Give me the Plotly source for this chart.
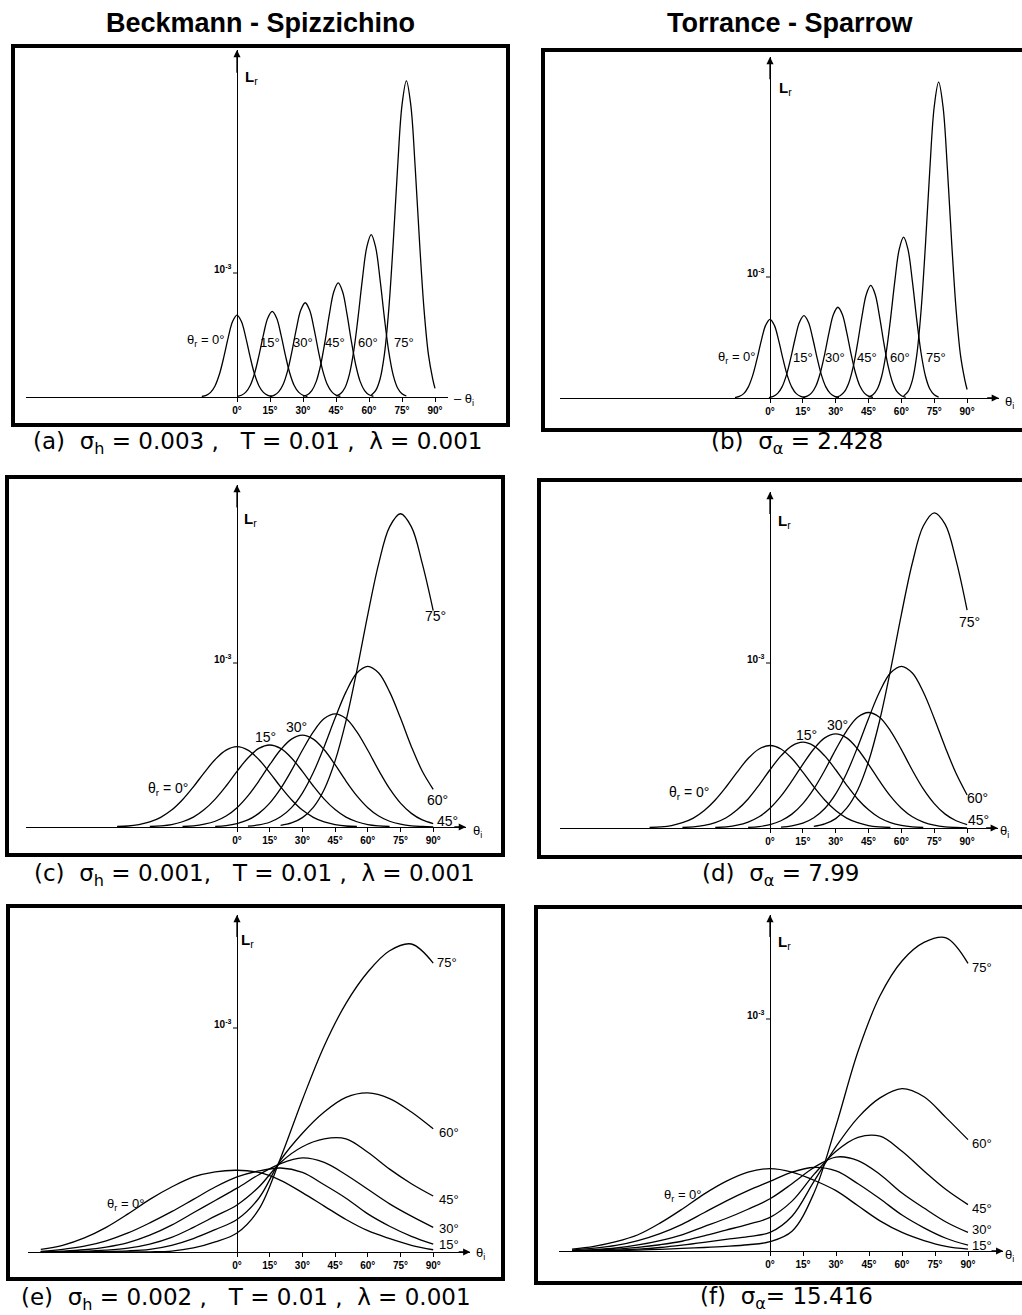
import plotly.graph_objects as go

W, H = 1022, 1315

# ------------------------------------------------------------------ data
TICK_DEG = [0, 15, 30, 45, 60, 75, 90]
TICK_TEXT = ["0°", "15°", "30°", "45°", "60°", "75°", "90°"]

# (a) Beckmann-Spizzichino, sigma_h = 0.003
A_0_x = [-16, -14, -12, -10, -8, -6, -4, -2, 0, 2, 4, 6, 8, 10, 12, 14, 16]
A_0_y = [0.004, 0.013, 0.037, 0.089, 0.183, 0.321, 0.479, 0.609, 0.66, 0.609, 0.479, 0.321, 0.183, 0.089, 0.037, 0.013, 0.004]
A_15_x = [0, 2, 4, 6, 8, 10, 12, 14, 16, 18, 20, 22, 24, 26, 28, 30, 32]
A_15_y = [0.004, 0.014, 0.039, 0.093, 0.192, 0.336, 0.501, 0.637, 0.69, 0.637, 0.501, 0.336, 0.192, 0.093, 0.039, 0.014, 0.004]
A_30_x = [15, 17, 19, 21, 23, 25, 27, 29, 31, 33, 35, 37, 39, 41, 43, 45, 47]
A_30_y = [0.005, 0.015, 0.043, 0.103, 0.211, 0.370, 0.552, 0.701, 0.76, 0.701, 0.552, 0.370, 0.211, 0.103, 0.043, 0.015, 0.005]
A_45_x = [30, 32, 34, 36, 38, 40, 42, 44, 46, 48, 50, 52, 54, 56, 58, 60, 62]
A_45_y = [0.006, 0.018, 0.052, 0.124, 0.256, 0.448, 0.668, 0.849, 0.92, 0.849, 0.668, 0.448, 0.256, 0.124, 0.052, 0.018, 0.006]
A_60_x = [45, 47, 49, 51, 53, 55, 57, 59, 61, 63, 65, 67, 69, 71, 73, 75, 77]
A_60_y = [0.008, 0.026, 0.073, 0.177, 0.364, 0.638, 0.951, 1.209, 1.31, 1.209, 0.951, 0.638, 0.364, 0.177, 0.073, 0.026, 0.008]
A_75_x = [61, 63, 65, 67, 69, 71, 73, 75, 77, 79, 81, 83, 85, 87, 89, 90]
A_75_y = [0.015, 0.051, 0.143, 0.344, 0.709, 1.242, 1.851, 2.354, 2.55, 2.354, 1.851, 1.242, 0.709, 0.344, 0.143, 0.07]

# (b) Torrance-Sparrow, sigma_alpha = 2.428
B_0_x = [-16, -14, -12, -10, -8, -6, -4, -2, 0, 2, 4, 6, 8, 10, 12, 14, 16]
B_0_y = [0.004, 0.013, 0.036, 0.088, 0.181, 0.317, 0.472, 0.600, 0.65, 0.600, 0.472, 0.317, 0.181, 0.088, 0.036, 0.013, 0.004]
B_15_x = [-0.5, 1.5, 3.5, 5.5, 7.5, 9.5, 11.5, 13.5, 15.5, 17.5, 19.5, 21.5, 23.5, 25.5, 27.5, 29.5, 31.5]
B_15_y = [0.004, 0.014, 0.038, 0.092, 0.189, 0.331, 0.494, 0.628, 0.68, 0.628, 0.494, 0.331, 0.189, 0.092, 0.038, 0.014, 0.004]
B_30_x = [15, 17, 19, 21, 23, 25, 27, 29, 31, 33, 35, 37, 39, 41, 43, 45, 47]
B_30_y = [0.005, 0.015, 0.042, 0.101, 0.209, 0.365, 0.545, 0.692, 0.75, 0.692, 0.545, 0.365, 0.209, 0.101, 0.042, 0.015, 0.005]
B_45_x = [30, 32, 34, 36, 38, 40, 42, 44, 46, 48, 50, 52, 54, 56, 58, 60, 62]
B_45_y = [0.006, 0.019, 0.052, 0.126, 0.259, 0.453, 0.675, 0.858, 0.93, 0.858, 0.675, 0.453, 0.259, 0.126, 0.052, 0.019, 0.006]
B_60_x = [45, 47, 49, 51, 53, 55, 57, 59, 61, 63, 65, 67, 69, 71, 73, 75, 77]
B_60_y = [0.008, 0.027, 0.074, 0.180, 0.370, 0.648, 0.966, 1.228, 1.33, 1.228, 0.966, 0.648, 0.370, 0.180, 0.074, 0.027, 0.008]
B_75_x = [61, 63, 65, 67, 69, 71, 73, 75, 77, 79, 81, 83, 85, 87, 89, 90]
B_75_y = [0.016, 0.052, 0.146, 0.352, 0.726, 1.271, 1.895, 2.409, 2.61, 2.409, 1.895, 1.271, 0.726, 0.352, 0.146, 0.07]

# (c) Beckmann-Spizzichino, sigma_h = 0.001
C_0_x = [-55, -50, -45, -40, -35, -30, -25, -20, -15, -10, -5, 0, 5, 10, 15, 20, 25, 30, 35, 40, 45, 50, 55]
C_0_y = [0.003, 0.006, 0.015, 0.031, 0.059, 0.103, 0.166, 0.245, 0.332, 0.412, 0.469, 0.49, 0.469, 0.412, 0.332, 0.245, 0.166, 0.103, 0.059, 0.031, 0.015, 0.006, 0.003]
C_15_x = [-40, -35, -30, -25, -20, -15, -10, -5, 0, 5, 10, 15, 20, 25, 30, 35, 40, 45, 50, 55, 60, 65, 70]
C_15_y = [0.003, 0.007, 0.015, 0.032, 0.060, 0.106, 0.170, 0.250, 0.339, 0.421, 0.479, 0.50, 0.479, 0.421, 0.339, 0.250, 0.170, 0.106, 0.060, 0.032, 0.015, 0.007, 0.003]
C_30_x = [-25, -20, -15, -10, -5, 0, 5, 10, 15, 20, 25, 30, 35, 40, 45, 50, 55, 60, 65, 70, 75, 80, 85, 90]
C_30_y = [0.003, 0.007, 0.017, 0.035, 0.067, 0.118, 0.190, 0.280, 0.380, 0.471, 0.536, 0.56, 0.536, 0.471, 0.380, 0.280, 0.190, 0.118, 0.067, 0.035, 0.017, 0.007, 0.003, 0.001]
C_45_x = [-10, -5, 0, 5, 10, 15, 20, 25, 30, 35, 40, 45, 50, 55, 60, 65, 70, 75, 80, 85, 90]
C_45_y = [0.004, 0.009, 0.021, 0.043, 0.083, 0.146, 0.234, 0.345, 0.468, 0.580, 0.661, 0.69, 0.661, 0.580, 0.468, 0.345, 0.234, 0.146, 0.083, 0.043, 0.021]
C_60_x = [5, 10, 15, 20, 25, 30, 35, 40, 45, 50, 55, 60, 65, 70, 75, 80, 85, 90]
C_60_y = [0.005, 0.013, 0.029, 0.062, 0.118, 0.207, 0.332, 0.490, 0.664, 0.824, 0.939, 0.98, 0.939, 0.824, 0.664, 0.490, 0.340, 0.23]
C_75_x = [20, 25, 30, 35, 40, 45, 50, 55, 60, 65, 70, 75, 80, 85, 90]
C_75_y = [0.010, 0.025, 0.057, 0.120, 0.229, 0.403, 0.647, 0.955, 1.295, 1.606, 1.830, 1.91, 1.830, 1.606, 1.32]

# (d) Torrance-Sparrow, sigma_alpha = 7.99
D_0_x = [-55, -50, -45, -40, -35, -30, -25, -20, -15, -10, -5, 0, 5, 10, 15, 20, 25, 30, 35, 40, 45, 50, 55]
D_0_y = [0.003, 0.007, 0.015, 0.032, 0.060, 0.106, 0.170, 0.250, 0.339, 0.421, 0.479, 0.50, 0.479, 0.421, 0.339, 0.250, 0.170, 0.106, 0.060, 0.032, 0.015, 0.007, 0.003]
D_15_x = [-40, -35, -30, -25, -20, -15, -10, -5, 0, 5, 10, 15, 20, 25, 30, 35, 40, 45, 50, 55, 60, 65, 70]
D_15_y = [0.003, 0.007, 0.016, 0.033, 0.062, 0.110, 0.176, 0.260, 0.353, 0.437, 0.498, 0.52, 0.498, 0.437, 0.353, 0.260, 0.176, 0.110, 0.062, 0.033, 0.016, 0.007, 0.003]
D_30_x = [-25, -20, -15, -10, -5, 0, 5, 10, 15, 20, 25, 30, 35, 40, 45, 50, 55, 60, 65, 70, 75, 80, 85, 90]
D_30_y = [0.003, 0.007, 0.017, 0.036, 0.068, 0.120, 0.193, 0.285, 0.386, 0.479, 0.546, 0.57, 0.546, 0.479, 0.386, 0.285, 0.193, 0.120, 0.068, 0.036, 0.017, 0.007, 0.003, 0.001]
D_45_x = [-10, -5, 0, 5, 10, 15, 20, 25, 30, 35, 40, 45, 50, 55, 60, 65, 70, 75, 80, 85, 90]
D_45_y = [0.004, 0.009, 0.021, 0.044, 0.084, 0.148, 0.237, 0.350, 0.475, 0.589, 0.671, 0.70, 0.671, 0.589, 0.475, 0.350, 0.237, 0.148, 0.084, 0.044, 0.021]
D_60_x = [5, 10, 15, 20, 25, 30, 35, 40, 45, 50, 55, 60, 65, 70, 75, 80, 85, 90]
D_60_y = [0.005, 0.013, 0.029, 0.062, 0.118, 0.207, 0.332, 0.490, 0.664, 0.824, 0.939, 0.98, 0.939, 0.824, 0.664, 0.490, 0.330, 0.20]
D_75_x = [20, 25, 30, 35, 40, 45, 50, 55, 60, 65, 70, 75, 80, 85, 90]
D_75_y = [0.010, 0.025, 0.057, 0.120, 0.229, 0.403, 0.647, 0.955, 1.295, 1.606, 1.830, 1.91, 1.840, 1.620, 1.32]

# (e) Beckmann-Spizzichino, sigma_h = 0.002  (shared theta grid)
E_x = [-90, -80, -70, -60, -50, -40, -30, -20, -10, 0, 10, 20, 30, 40, 50, 60, 70, 80, 90]
E_0_y = [0.012, 0.03, 0.063, 0.11, 0.17, 0.235, 0.29, 0.335, 0.358, 0.365, 0.355, 0.32, 0.265, 0.205, 0.145, 0.095, 0.06, 0.03, 0.01]
E_15_y = [0.003, 0.012, 0.026, 0.05, 0.085, 0.13, 0.18, 0.235, 0.29, 0.335, 0.362, 0.375, 0.355, 0.30, 0.24, 0.17, 0.115, 0.07, 0.035]
E_30_y = [0.001, 0.004, 0.01, 0.022, 0.042, 0.075, 0.12, 0.175, 0.23, 0.285, 0.345, 0.395, 0.42, 0.40, 0.345, 0.28, 0.215, 0.16, 0.11]
E_45_y = [0.0, 0.001, 0.003, 0.008, 0.017, 0.035, 0.065, 0.11, 0.16, 0.21, 0.29, 0.40, 0.47, 0.505, 0.505, 0.445, 0.37, 0.305, 0.25]
E_60_y = [0.0, 0.0, 0.001, 0.002, 0.005, 0.012, 0.03, 0.06, 0.10, 0.145, 0.24, 0.41, 0.53, 0.625, 0.69, 0.71, 0.685, 0.625, 0.55]
E_75_y = [0.0, 0.0, 0.0, 0.0, 0.0, 0.001, 0.004, 0.018, 0.045, 0.085, 0.19, 0.42, 0.68, 0.92, 1.11, 1.25, 1.345, 1.375, 1.29]

# (f) Torrance-Sparrow, sigma_alpha = 15.416  (shared theta grid)
F_x = [-90, -80, -70, -60, -50, -40, -30, -20, -10, 0, 10, 20, 30, 40, 50, 60, 70, 80, 90]
F_0_y = [0.008, 0.02, 0.04, 0.07, 0.12, 0.18, 0.245, 0.30, 0.34, 0.355, 0.34, 0.305, 0.26, 0.195, 0.13, 0.08, 0.045, 0.02, 0.008]
F_15_y = [0.004, 0.012, 0.024, 0.045, 0.075, 0.115, 0.165, 0.215, 0.26, 0.30, 0.34, 0.36, 0.345, 0.29, 0.225, 0.155, 0.10, 0.055, 0.025]
F_30_y = [0.002, 0.006, 0.013, 0.026, 0.045, 0.07, 0.105, 0.14, 0.18, 0.225, 0.29, 0.36, 0.405, 0.39, 0.33, 0.25, 0.185, 0.125, 0.08]
F_45_y = [0.001, 0.004, 0.008, 0.016, 0.027, 0.042, 0.065, 0.09, 0.115, 0.145, 0.215, 0.33, 0.43, 0.49, 0.495, 0.43, 0.345, 0.265, 0.20]
F_60_y = [0.0, 0.002, 0.004, 0.008, 0.015, 0.025, 0.037, 0.05, 0.062, 0.08, 0.15, 0.30, 0.45, 0.575, 0.66, 0.70, 0.665, 0.575, 0.48]
F_75_y = [0.0, 0.001, 0.002, 0.004, 0.007, 0.011, 0.015, 0.02, 0.027, 0.04, 0.085, 0.25, 0.54, 0.86, 1.10, 1.25, 1.33, 1.35, 1.24]

CURVES = {
    "a": [(A_0_x, A_0_y), (A_15_x, A_15_y), (A_30_x, A_30_y), (A_45_x, A_45_y), (A_60_x, A_60_y), (A_75_x, A_75_y)],
    "b": [(B_0_x, B_0_y), (B_15_x, B_15_y), (B_30_x, B_30_y), (B_45_x, B_45_y), (B_60_x, B_60_y), (B_75_x, B_75_y)],
    "c": [(C_0_x, C_0_y), (C_15_x, C_15_y), (C_30_x, C_30_y), (C_45_x, C_45_y), (C_60_x, C_60_y), (C_75_x, C_75_y)],
    "d": [(D_0_x, D_0_y), (D_15_x, D_15_y), (D_30_x, D_30_y), (D_45_x, D_45_y), (D_60_x, D_60_y), (D_75_x, D_75_y)],
    "e": [(E_x, E_0_y), (E_x, E_15_y), (E_x, E_30_y), (E_x, E_45_y), (E_x, E_60_y), (E_x, E_75_y)],
    "f": [(F_x, F_0_y), (F_x, F_15_y), (F_x, F_30_y), (F_x, F_45_y), (F_x, F_60_y), (F_x, F_75_y)],
}

NB = "\u00a0"
CAPTIONS = {
    "a": f"(a){NB}{NB}σ<sub>h</sub> = 0.003 ,{NB}{NB}{NB}T = 0.01 ,{NB}{NB}λ = 0.001",
    "b": f"(b){NB}{NB}σ<sub>α</sub> = 2.428",
    "c": f"(c){NB}{NB}σ<sub>h</sub> = 0.001,{NB}{NB}{NB}T = 0.01 ,{NB}{NB}λ = 0.001",
    "d": f"(d){NB}{NB}σ<sub>α</sub> = 7.99",
    "e": f"(e){NB}{NB}σ<sub>h</sub> = 0.002 ,{NB}{NB}{NB}T = 0.01 ,{NB}{NB}λ = 0.001",
    "f": f"(f){NB}{NB}σ<sub>α</sub>= 15.416",
}
THETA_R0 = "θ<sub>r</sub> = 0°"

# ------------------------------------------------------------------ layout params (pixels)
PANELS = [
    dict(k="a", x0=237, ppd=2.2, xmin=-96, xmax=96, base=397, top=50, unit=124, harrow=False,
         box=(13, 46, 508, 425), lr=(243, 78), ti=(452, 400, "– θ<sub>i</sub>", "left"), cap=(258, 443),
         labels=[(THETA_R0, 227, 341, "right"), ("15°", 270, 342, "center"), ("30°", 303, 342, "center"),
                 ("45°", 335, 342, "center"), ("60°", 368, 342, "center"), ("75°", 404, 342, "center")], lfs=13),
    dict(k="b", x0=770, ppd=2.19, xmin=-96, xmax=104.5, base=398, top=57, unit=121, harrow=True,
         box=(543, 50, 1030, 430), lr=(777, 88), ti=(1009, 402, "θ<sub>i</sub>", "center"), cap=(797, 443),
         labels=[(THETA_R0, 758, 357, "right"), ("15°", 803, 357, "center"), ("30°", 835, 357, "center"),
                 ("45°", 867, 357, "center"), ("60°", 900, 357, "center"), ("75°", 936, 357, "center")], lfs=13),
    dict(k="c", x0=237, ppd=2.18, xmin=-97, xmax=105, base=827, top=485, unit=164, harrow=True,
         box=(7, 477, 503, 855), lr=(242, 519), ti=(477, 831, "θ<sub>i</sub>", "center"), cap=(254, 875),
         labels=[(THETA_R0, 190, 789, "right"), ("15°", 265, 737, "center"), ("30°", 296, 727, "center"),
                 ("45°", 447, 821, "center"), ("60°", 437, 800, "center"), ("75°", 435, 616, "center")], lfs=14),
    dict(k="d", x0=770, ppd=2.19, xmin=-96, xmax=104, base=828, top=492, unit=165, harrow=True,
         box=(539, 480, 1030, 857), lr=(776, 522), ti=(1004, 832, "θ<sub>i</sub>", "center"), cap=(780, 875),
         labels=[(THETA_R0, 711, 793, "right"), ("15°", 806, 735, "center"), ("30°", 837, 725, "center"),
                 ("45°", 978, 820, "center"), ("60°", 977, 798, "center"), ("75°", 969, 622, "center")], lfs=14),
    dict(k="e", x0=237, ppd=2.18, xmin=-96, xmax=107, base=1252, top=915, unit=224, harrow=True,
         box=(8, 906, 503, 1279), lr=(239, 941), ti=(480, 1253, "θ<sub>i</sub>", "center"), cap=(246, 1299),
         labels=[(THETA_R0, 147, 1204, "right"), ("15°", 449, 1244, "center"), ("30°", 449, 1228, "center"),
                 ("45°", 449, 1199, "center"), ("60°", 449, 1132, "center"), ("75°", 447, 962, "center")], lfs=13),
    dict(k="f", x0=770, ppd=2.2, xmin=-96, xmax=106, base=1251, top=915, unit=232, harrow=True,
         box=(536, 907, 1030, 1283), lr=(776, 942), ti=(1009, 1255, "θ<sub>i</sub>", "center"), cap=(786, 1298),
         labels=[(THETA_R0, 704, 1195, "right"), ("15°", 982, 1245, "center"), ("30°", 982, 1229, "center"),
                 ("45°", 982, 1208, "center"), ("60°", 982, 1143, "center"), ("75°", 982, 967, "center")], lfs=13),
]

FONT = "Liberation Sans, Arial, Helvetica, sans-serif"
CAPFONT = "DejaVu Sans, Verdana, sans-serif"


def pxx(x):
    return x / W


def pxy(y):
    return 1 - y / H


fig = go.Figure()
layout = dict(width=W, height=H, margin=dict(l=0, r=0, t=0, b=0), paper_bgcolor="white",
              plot_bgcolor="rgba(0,0,0,0)", showlegend=False, hovermode=False,
              font=dict(family=FONT, color="black"))
annotations = []
shapes = []

for i, p in enumerate(PANELS, start=1):
    xr = "x" if i == 1 else f"x{i}"
    yr = "y" if i == 1 else f"y{i}"
    xk = "xaxis" if i == 1 else f"xaxis{i}"
    yk = "yaxis" if i == 1 else f"yaxis{i}"
    ytop = (p["base"] - p["top"]) / p["unit"]
    xd = [pxx(p["x0"] + p["xmin"] * p["ppd"]), pxx(p["x0"] + p["xmax"] * p["ppd"])]
    yd = [pxy(p["base"]), pxy(p["top"])]
    layout[xk] = dict(domain=xd, range=[p["xmin"], p["xmax"]], anchor=yr, showgrid=False,
                      zeroline=True, zerolinecolor="black", zerolinewidth=1.3,
                      showline=True, linecolor="black", linewidth=1.3, mirror=False,
                      ticks="outside", ticklen=4, tickwidth=1, tickcolor="black",
                      tickvals=TICK_DEG, ticktext=TICK_TEXT,
                      tickfont=dict(family=FONT, size=10, color="black", weight="bold"),
                      fixedrange=True)
    layout[yk] = dict(domain=yd, range=[0, ytop], anchor=xr, showgrid=False, zeroline=False,
                      showline=False, showticklabels=False, ticks="", fixedrange=True)

    for cx, cy in CURVES[p["k"]]:
        fig.add_trace(go.Scatter(x=cx, y=cy, xaxis=xr, yaxis=yr, mode="lines",
                                 line=dict(color="black", width=1.3, shape="spline", smoothing=1.0),
                                 hoverinfo="skip", showlegend=False))

    # vertical arrow head
    annotations.append(dict(x=0, y=ytop, ax=0, ay=ytop * 0.93, xref=xr, yref=yr, axref=xr, ayref=yr,
                            showarrow=True, arrowhead=2, arrowsize=1.1, arrowwidth=1.3,
                            arrowcolor="black", text=""))
    if p["harrow"]:
        annotations.append(dict(x=p["xmax"], y=0, ax=p["xmax"] - 6, ay=0, xref=xr, yref=yr,
                                axref=xr, ayref=yr, showarrow=True, arrowhead=2, arrowsize=1.1,
                                arrowwidth=1.3, arrowcolor="black", text=""))
    # 10^-3 tick
    shapes.append(dict(type="line", xref=xr, yref=yr, x0=-4 / p["ppd"], x1=0, y0=1, y1=1,
                       line=dict(color="black", width=1)))
    annotations.append(dict(x=-4 / p["ppd"], y=1, xref=xr, yref=yr, xanchor="right", yanchor="middle",
                            yshift=4, showarrow=False, text="10<sup>-3</sup>",
                            font=dict(family=FONT, size=10, color="black", weight="bold")))
    # L_r
    annotations.append(dict(x=pxx(p["lr"][0]), y=pxy(p["lr"][1]), xref="paper", yref="paper",
                            xanchor="left", yanchor="middle", showarrow=False,
                            text="<b>L</b><sub>r</sub>", font=dict(family=FONT, size=15, color="black")))
    # theta_i
    annotations.append(dict(x=pxx(p["ti"][0]), y=pxy(p["ti"][1]), xref="paper", yref="paper",
                            xanchor=p["ti"][3], yanchor="middle", showarrow=False,
                            text=p["ti"][2], font=dict(family=FONT, size=13, color="black")))
    # curve labels
    for txt, lx, ly, anc in p["labels"]:
        annotations.append(dict(x=pxx(lx), y=pxy(ly), xref="paper", yref="paper", xanchor=anc,
                                yanchor="middle", showarrow=False, text=txt,
                                font=dict(family=FONT, size=p["lfs"], color="black")))
    # caption
    annotations.append(dict(x=pxx(p["cap"][0]), y=pxy(p["cap"][1]), xref="paper", yref="paper",
                            xanchor="center", yanchor="middle", showarrow=False,
                            text=CAPTIONS[p["k"]], font=dict(family=CAPFONT, size=23, color="black")))
    # border box
    bx0, by0, bx1, by1 = p["box"]
    shapes.append(dict(type="rect", xref="paper", yref="paper", x0=pxx(bx0), x1=pxx(bx1),
                       y0=pxy(by1), y1=pxy(by0), line=dict(color="black", width=4),
                       fillcolor="rgba(0,0,0,0)", layer="above"))

# column titles
annotations.append(dict(x=pxx(260), y=pxy(23), xref="paper", yref="paper", xanchor="center",
                        yanchor="middle", showarrow=False, text="<b>Beckmann - Spizzichino</b>",
                        font=dict(family=FONT, size=27, color="black")))
annotations.append(dict(x=pxx(790), y=pxy(23), xref="paper", yref="paper", xanchor="center",
                        yanchor="middle", showarrow=False, text="<b>Torrance - Sparrow</b>",
                        font=dict(family=FONT, size=27, color="black")))

layout["annotations"] = annotations
layout["shapes"] = shapes
fig.update_layout(**layout)
fig.write_html("out.html", config={"displayModeBar": False},
               post_script="document.body.style.margin='0px';document.body.style.overflow='hidden';")
